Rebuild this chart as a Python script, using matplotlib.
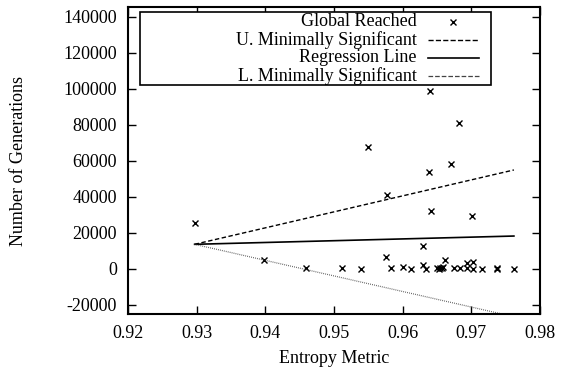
import matplotlib
matplotlib.use("Agg")
import matplotlib.pyplot as plt

plt.rcParams['font.family'] = ['Liberation Serif', 'DejaVu Serif']
plt.rcParams['font.size'] = 13

# Entropy metric vs. generations needed to reach the global optimum
entropy = [0.9297, 0.9398, 0.9459, 0.9512, 0.9540, 0.9549, 0.9576, 0.9577,
           0.9583, 0.9601, 0.9612, 0.9629, 0.9630, 0.9634, 0.9638, 0.9640,
           0.9641, 0.9650, 0.9653, 0.9655, 0.9657, 0.9659, 0.9661, 0.9671,
           0.9675, 0.9682, 0.9684, 0.9693, 0.9694, 0.9701, 0.9703, 0.9703,
           0.9716, 0.9737, 0.9738, 0.9762]
generations = [25700, 5000, 400, 500, 200, 67800, 6700, 40900,
               500, 1300, 200, 2200, 12800, 200, 53700, 99000,
               32200, 300, 200, 300, 600, 1200, 5000, 58200,
               400, 81000, 700, 3500, 700, 29600, 4000, 200,
               0, 200, 300, 0]

# Fitted lines over the observed entropy range
fit_x = [0.9297, 0.9762]
upper_sig = [13700, 55000]
regression = [13700, 18300]
lower_sig = [13700, -26500]

xticks = [0.92, 0.93, 0.94, 0.95, 0.96, 0.97, 0.98]
yticks = [-20000, 0, 20000, 40000, 60000, 80000, 100000, 120000, 140000]

fig = plt.figure(figsize=(5.61, 3.73), dpi=100)
ax = fig.add_axes([128 / 561, 1 - 314 / 373, 412 / 561, 307 / 373])

pts, = ax.plot(entropy, generations, linestyle='none', marker='x',
               markersize=4, markeredgewidth=1, color='black')
up, = ax.plot(fit_x, upper_sig, color='black', lw=1, linestyle=(0, (3.2, 1.8)))
reg, = ax.plot(fit_x, regression, color='black', lw=1.2, linestyle='-')
lo, = ax.plot(fit_x, lower_sig, color='#444444', lw=0.9,
              linestyle=(0, (0.6, 1.0)))

ax.set_xlim(0.92, 0.98)
ax.set_ylim(-25000, 145500)
ax.set_xticks(xticks)
ax.set_xticklabels([f"{t:.2f}" for t in xticks])
ax.set_yticks(yticks)
ax.set_yticklabels([str(t) for t in yticks])
ax.tick_params(direction='in', length=6, width=1, top=True, right=True,
               pad=8, colors='black')
for s in ax.spines.values():
    s.set_linewidth(1.5)

ax.set_xlabel("Entropy Metric", labelpad=6)
ax.set_ylabel("Number of Generations", labelpad=26)

# Key box with labels right-aligned and samples to their right
box = plt.Rectangle((0.029, 0.746), 0.852, 0.238, transform=ax.transAxes,
                    fill=True, facecolor='white', edgecolor='black', lw=1.2,
                    zorder=5)
ax.add_patch(box)
labels = ["Global Reached", "U. Minimally Significant", "Regression Line",
          "L. Minimally Significant"]
handles = [pts, up, reg, lo]
for i, (lab, h) in enumerate(zip(labels, handles)):
    yy = 0.952 - i * 0.059
    ax.text(0.701, yy, lab, transform=ax.transAxes, ha='right', va='center',
            zorder=6)
    if h is pts:
        ax.plot([0.790], [yy], transform=ax.transAxes, marker='x',
                markersize=4, markeredgewidth=1, color='black',
                linestyle='none', zorder=6, clip_on=False)
    else:
        ax.plot([0.728, 0.852], [yy, yy], transform=ax.transAxes,
                color=h.get_color(), lw=h.get_linewidth(),
                linestyle=h.get_linestyle(), zorder=6)

fig.savefig("out.png", dpi=100)
